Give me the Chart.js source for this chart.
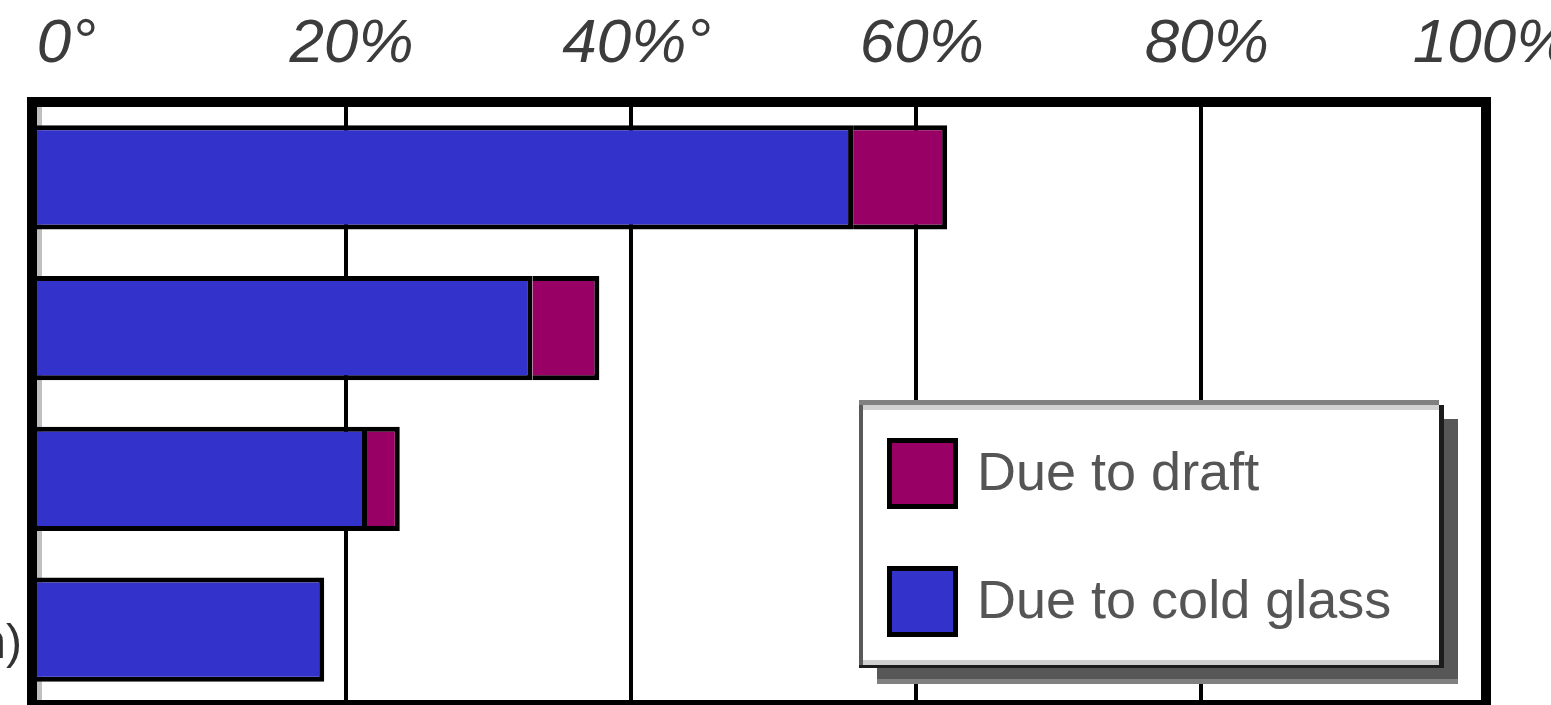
<!DOCTYPE html>
<html>
<head>
<meta charset="utf-8">
<title>Heat loss share</title>
<script src="https://cdn.jsdelivr.net/npm/chart.js@4.4.1/dist/chart.umd.min.js"></script>
<style>
  html, body { margin: 0; padding: 0; background: #ffffff; overflow: hidden; }
  #wrap { position: relative; width: 1551px; height: 705px; }
</style>
</head>
<body>
<div id="wrap"><canvas id="chart" width="1551" height="705"></canvas></div>
<script>
// Rows (top to bottom) and the two stacked components, in percent
const categories = ['', '', '', 'n)'];
const seriesNames = ['Due to cold glass', 'Due to draft'];
const coldGlass = [55.6, 33.1, 21.5, 18.5];
const draft = [6.6, 4.7, 2.3, null];

// Value axis
const tickValues = [0, 20, 40, 60, 80, 100];
const tickLabels = ['0°', '20%', '40%°', '60%', '80%', '100%'];
const axisStart = -2;
const axisEnd = 100;

const colors = ['#3333cc', '#990066'];
const FONT = '"Liberation Sans", Arial, sans-serif';

// Thick black frame around the plot, plus the pale strip just inside its left edge
const framePlugin = {
  id: 'frame',
  beforeDatasetsDraw(chart) {
    const { ctx, chartArea: a } = chart;
    ctx.save();
    ctx.fillStyle = '#c0c0c0';
    ctx.fillRect(a.left + 5, a.top, 5, a.bottom - a.top);
    ctx.restore();
  },
  afterDatasetsDraw(chart) {
    const { ctx, chartArea: a } = chart;
    ctx.save();
    ctx.strokeStyle = '#000000';
    ctx.lineWidth = 10;
    ctx.lineJoin = 'miter';
    ctx.strokeRect(a.left, a.top, a.right - a.left, a.bottom - a.top);
    ctx.restore();
  }
};

// Boxed legend with a drop shadow, sitting inside the plot
const boxLegend = {
  id: 'boxLegend',
  afterDraw(chart) {
    const ctx = chart.ctx;
    const x = 859, y = 400, w = 585, h = 268;
    ctx.save();
    // shadow
    ctx.fillStyle = '#575757';
    ctx.fillRect(x + 18, y + 19, w - 4, h - 5);
    ctx.fillStyle = '#808080';
    ctx.fillRect(x + 18, y + h + 11, w - 4, 5);
    // panel
    ctx.fillStyle = '#ffffff';
    ctx.fillRect(x, y, w, h);
    ctx.fillStyle = '#808080';
    ctx.fillRect(x, y, w - 5, 5);
    ctx.fillStyle = '#d0d0d0';
    ctx.fillRect(x + 4, y + 5, w - 9, 5);
    ctx.fillRect(x + 4, y + h - 8, w - 9, 5);
    ctx.fillStyle = '#5a5a5a';
    ctx.fillRect(x, y + 5, 4, h - 5);
    ctx.fillStyle = '#1c1c1c';
    ctx.fillRect(x + w - 5, y + 5, 5, h - 5);
    ctx.fillRect(x, y + h - 3, w, 3);

    const items = chart.data.datasets.map(d => ({ label: d.label, color: d.backgroundColor })).reverse();
    items.forEach((it, i) => {
      const sy = 438 + i * 128;
      ctx.fillStyle = '#000000';
      ctx.fillRect(887, sy, 71, 71);
      ctx.fillStyle = it.color;
      ctx.fillRect(892, sy + 5, 61, 61);
      ctx.font = '54px ' + FONT;
      ctx.fillStyle = '#555555';
      ctx.textAlign = 'left';
      ctx.textBaseline = 'alphabetic';
      ctx.fillText(it.label, 977, sy + 52);
    });
    ctx.restore();
  }
};

new Chart(document.getElementById('chart'), {
  type: 'bar',
  data: {
    labels: categories,
    datasets: [
      {
        label: seriesNames[0],
        data: coldGlass,
        backgroundColor: colors[0],
        borderColor: '#000000',
        borderWidth: { top: 5, bottom: 5, left: 5, right: 5 },
        borderSkipped: false,
        base: axisStart
      },
      {
        label: seriesNames[1],
        data: draft,
        backgroundColor: colors[1],
        borderColor: '#000000',
        borderWidth: { top: 5, bottom: 5, left: 0, right: 5 },
        borderSkipped: 'start'
      }
    ]
  },
  options: {
    indexAxis: 'y',
    responsive: false,
    animation: false,
    barPercentage: 0.69,
    categoryPercentage: 1,
    layout: { padding: { top: 0, right: 65, bottom: 0, left: 0 } },
    plugins: {
      legend: { display: false },
      tooltip: { enabled: false }
    },
    scales: {
      x: {
        type: 'linear',
        position: 'top',
        stacked: true,
        min: axisStart,
        max: axisEnd,
        afterBuildTicks: s => { s.ticks = tickValues.map(v => ({ value: v })); },
        afterFit: s => { s.height = 102; s.paddingLeft = 0; s.paddingRight = 0; },
        border: { display: false },
        grid: {
          drawTicks: false,
          lineWidth: 4,
          color: c => (c.tick && c.tick.value > 0 && c.tick.value < 100) ? '#000000' : 'rgba(0,0,0,0)'
        },
        ticks: {
          autoSkip: false,
          maxRotation: 0,
          padding: 20,
          labelOffset: 6,
          color: '#3c3c3c',
          font: { family: FONT, size: 62, style: 'italic' },
          callback: (v, i) => tickLabels[i]
        }
      },
      y: {
        stacked: true,
        afterFit: s => { s.width = 32; s.paddingTop = 0; s.paddingBottom = 0; },
        border: { display: false },
        grid: { display: false, drawTicks: false },
        ticks: {
          padding: 10,
          labelOffset: 15,
          color: '#333333',
          font: { family: FONT, size: 48 }
        }
      }
    }
  },
  plugins: [framePlugin, boxLegend]
});
</script>
</body>
</html>
